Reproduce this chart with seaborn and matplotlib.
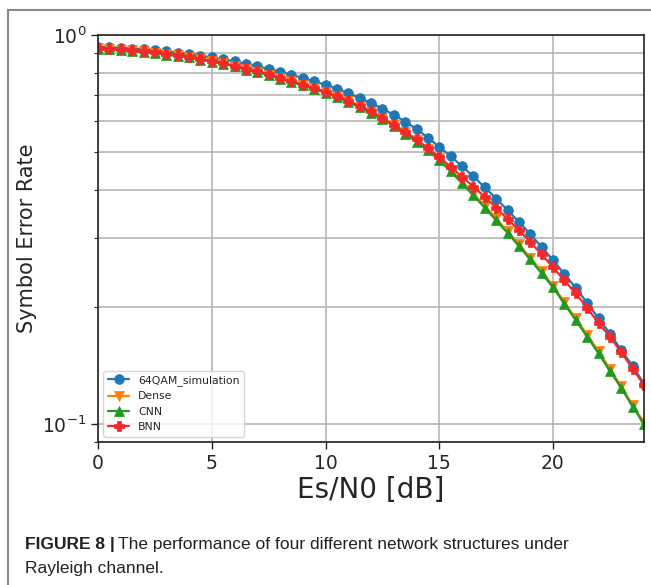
import numpy as np
import matplotlib
matplotlib.use("Agg")
import matplotlib.pyplot as plt
from matplotlib.patches import Rectangle
from matplotlib.ticker import LogLocator, NullFormatter
import seaborn as sns

# Es/N0 grid (dB) and symbol error rates
snr_db = np.arange(0, 24.5, 0.5)

sim_ser = [0.932, 0.929, 0.926, 0.922, 0.918, 0.913, 0.907, 0.900, 0.893, 0.885,
           0.876, 0.866, 0.855, 0.843, 0.831, 0.818, 0.804, 0.790, 0.775, 0.760,
           0.745, 0.727, 0.709, 0.689, 0.669, 0.647, 0.624, 0.599, 0.573, 0.545,
           0.516, 0.488, 0.460, 0.433, 0.406, 0.380, 0.355, 0.331, 0.308, 0.285,
           0.264, 0.243, 0.224, 0.205, 0.187, 0.171, 0.155, 0.141, 0.127]

dense_ser = [0.925, 0.921, 0.917, 0.913, 0.907, 0.901, 0.894, 0.886, 0.878, 0.868,
             0.857, 0.846, 0.833, 0.818, 0.805, 0.791, 0.775, 0.760, 0.745, 0.729,
             0.714, 0.695, 0.676, 0.655, 0.635, 0.611, 0.588, 0.563, 0.537, 0.510,
             0.482, 0.451, 0.421, 0.391, 0.364, 0.338, 0.313, 0.290, 0.268, 0.247,
             0.227, 0.206, 0.187, 0.170, 0.154, 0.139, 0.125, 0.112, 0.101]

cnn_ser = [0.922, 0.918, 0.915, 0.910, 0.904, 0.898, 0.891, 0.883, 0.876, 0.865,
           0.854, 0.843, 0.830, 0.815, 0.802, 0.788, 0.772, 0.757, 0.742, 0.726,
           0.711, 0.692, 0.673, 0.652, 0.632, 0.608, 0.584, 0.558, 0.532, 0.505,
           0.477, 0.446, 0.416, 0.387, 0.360, 0.334, 0.310, 0.287, 0.265, 0.244,
           0.225, 0.204, 0.185, 0.168, 0.152, 0.137, 0.124, 0.111, 0.100]

bnn_ser = [0.927, 0.923, 0.920, 0.915, 0.909, 0.903, 0.896, 0.887, 0.880, 0.869,
           0.858, 0.847, 0.834, 0.819, 0.806, 0.792, 0.776, 0.761, 0.746, 0.730,
           0.715, 0.696, 0.677, 0.656, 0.636, 0.611, 0.587, 0.563, 0.539, 0.512,
           0.485, 0.459, 0.432, 0.408, 0.384, 0.360, 0.337, 0.315, 0.294, 0.273,
           0.253, 0.234, 0.217, 0.199, 0.182, 0.168, 0.153, 0.139, 0.126]

series = [
    ("64QAM_simulation", sim_ser, "o", "#1f77b4"),
    ("Dense", dense_ser, "v", "#ff7f0e"),
    ("CNN", cnn_ser, "^", "#1f9a1f"),
    ("BNN", bnn_ser, "P", "#f42828"),
]

sns.set_style("white")
plt.rcParams["font.family"] = ["DejaVu Sans"]

W, H = 651, 585
fig = plt.figure(figsize=(W / 100, H / 100), dpi=100)
ax = fig.add_axes([98 / W, 1 - 442 / H, (644 - 98) / W, (442 - 35) / H])

for name, vals, mk, col in series:
    sns.lineplot(x=snr_db, y=vals, ax=ax, label=name, color=col, marker=mk,
                 markersize=7, markeredgecolor=col, markeredgewidth=0.5,
                 linewidth=1.6)

ax.set_yscale("log")
ax.set_ylim(0.09, 1.0)
ax.set_xlim(0, 24)
ax.set_xticks([0, 5, 10, 15, 20])
ax.yaxis.set_major_locator(LogLocator(base=10))
ax.yaxis.set_minor_locator(LogLocator(base=10, subs=np.arange(2, 10)))
ax.yaxis.set_minor_formatter(NullFormatter())

ax.grid(True, which="both", color="#b5b5b5", linewidth=1.2)
ax.set_axisbelow(True)
for sp in ax.spines.values():
    sp.set_color("#222222")
    sp.set_linewidth(1.2)
ax.tick_params(axis="both", which="major", labelsize=13.5, length=5, width=1,
               color="#222222", direction="out", left=True, bottom=True)
ax.tick_params(axis="y", which="minor", length=3, width=0.8, left=True)

ax.set_xlabel("Es/N0 [dB]", fontsize=20)
ax.xaxis.label.set_va("center")
ax.xaxis.set_label_coords(0.5, -(490 - 442) / 407)
ax.set_ylabel("Symbol Error Rate", fontsize=15)
ax.yaxis.label.set_va("center")
ax.yaxis.set_label_coords(-(98 - 27.5) / 546, 0.5)

ax.legend(loc="lower left", fontsize=7.8, frameon=True)

# outer frame of the published figure panel
fig.add_artist(Rectangle((8 / W, -0.2), 1.2, 1.2 - 10 / H, transform=fig.transFigure,
                         fill=False, edgecolor="#8a8a8a", linewidth=1.5))

cap_font = ["Liberation Sans"]
t1 = fig.text(25 / W, 1 - 544 / H, "FIGURE 8 |", fontsize=12.5, fontweight="bold",
              family=cap_font, va="center", ha="left", color="#222222")
fig.canvas.draw()
bb = t1.get_window_extent(fig.canvas.get_renderer())
fig.text(bb.x1 / W + 3 / W, 1 - 544 / H,
         "The performance of four different network structures under",
         fontsize=12.5, family=cap_font, va="center", ha="left", color="#222222")
fig.text(25 / W, 1 - 568 / H, "Rayleigh channel.", fontsize=12.5, family=cap_font,
         va="center", ha="left", color="#222222")

fig.savefig("out.png", dpi=100)
